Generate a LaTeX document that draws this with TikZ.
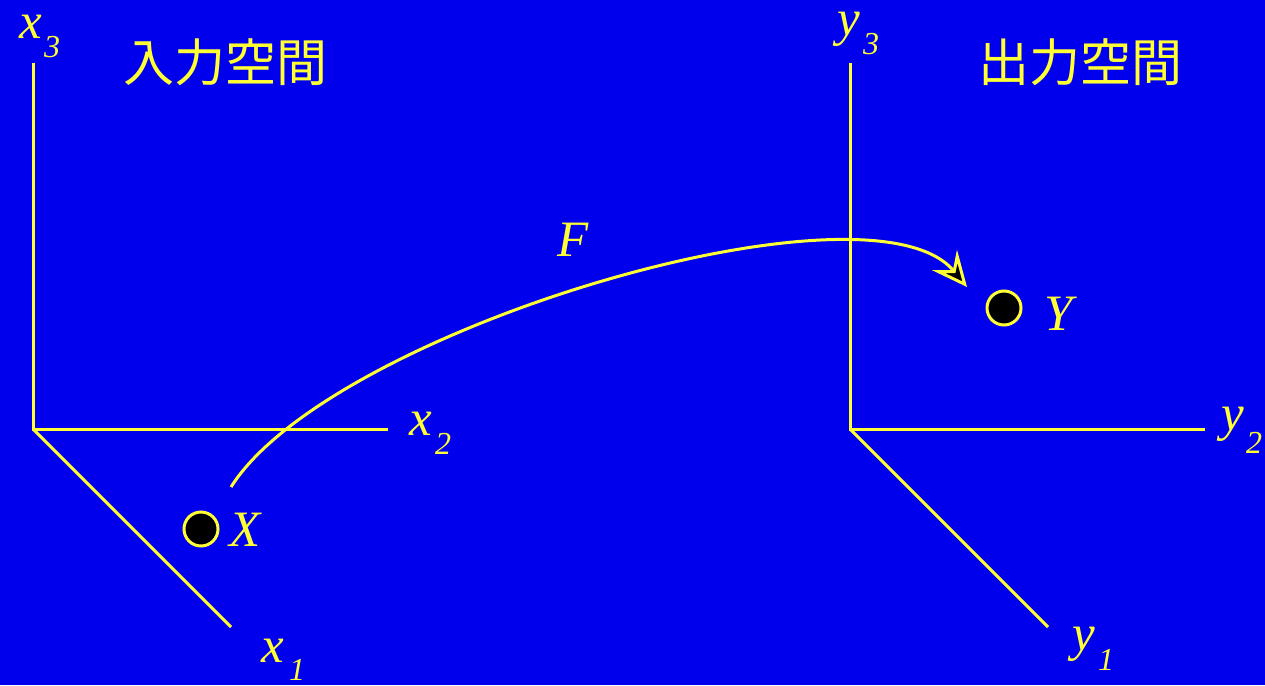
\documentclass[tikz,border=0pt]{standalone}
\usepackage{fontspec}
\setmainfont{Liberation Serif}
\newfontfamily\cjk{Noto Sans CJK JP}
\usetikzlibrary{arrows.meta}
\definecolor{bg}{RGB}{0,0,236}
\definecolor{yel}{RGB}{255,255,51}
\begin{document}
\begin{tikzpicture}[x=1pt,y=-1pt,
  axis/.style={draw=yel,line width=3pt},
  var/.style={text=yel,font=\fontsize{51}{51}\selectfont\itshape,inner sep=0pt},
  sub/.style={text=yel,font=\fontsize{32}{32}\selectfont\itshape,inner sep=0pt},
  title/.style={text=yel,font=\fontsize{51}{51}\selectfont\cjk,inner sep=0pt},
  pt/.style={circle,fill=black,draw=yel,line width=3pt,minimum size=34pt,inner sep=0pt}]
\fill[bg] (0,0) rectangle (1265,685);
\useasboundingbox (0,0) rectangle (1265,685);
% left axes
\coordinate (O1) at (33,429);
\coordinate (A3) at (33,63);
\coordinate (A2) at (388,429);
\coordinate (A1) at (231,627);
\draw[axis] (A3) -- (O1) -- (A2);
\draw[axis] (O1) -- (A1);
% right axes
\coordinate (O2) at (850,429);
\coordinate (B3) at (850,63);
\coordinate (B2) at (1205,429);
\coordinate (B1) at (1048,627);
\draw[axis] (B3) -- (O2) -- (B2);
\draw[axis] (O2) -- (B1);
% labels
\node[var] (lx3) at (31,27) {x};
\node[sub] (lx3s) at (52,47) {3};
\node[var] (lx2) at (421,424) {x};
\node[sub] (lx2s) at (443,444) {2};
\node[var] (lx1) at (273,651) {x};
\node[sub] (lx1s) at (297,670) {1};
\node[var] (ly3) at (849,29) {y};
\node[sub] (ly3s) at (871,44) {3};
\node[var] (ly2) at (1233,424) {y};
\node[sub] (ly2s) at (1254,443) {2};
\node[var] (ly1) at (1084,644) {y};
\node[sub] (ly1s) at (1106,660) {1};
\node[title] (tin) at (225,62) {入力空間};
\node[title] (tout) at (1080,62) {出力空間};
% points
\node[pt] (X) at (201,529) {};
\node[var] (XL) at (245,530) {X};
\node[pt] (Y) at (1004,308) {};
\node[var] (YL) at (1059,314) {Y};
\node[var] (FL) at (573,240) {F};
% mapping arrow
\coordinate (s) at (231,487);
\coordinate (e) at (967,287);
\draw[yel,line width=3pt,-{Stealth[length=35pt,width=32pt,inset=13pt,fill=black,line width=3pt]}]
  (s) .. controls (330,330) and (870,170) .. (e);
\end{tikzpicture}
\end{document}
